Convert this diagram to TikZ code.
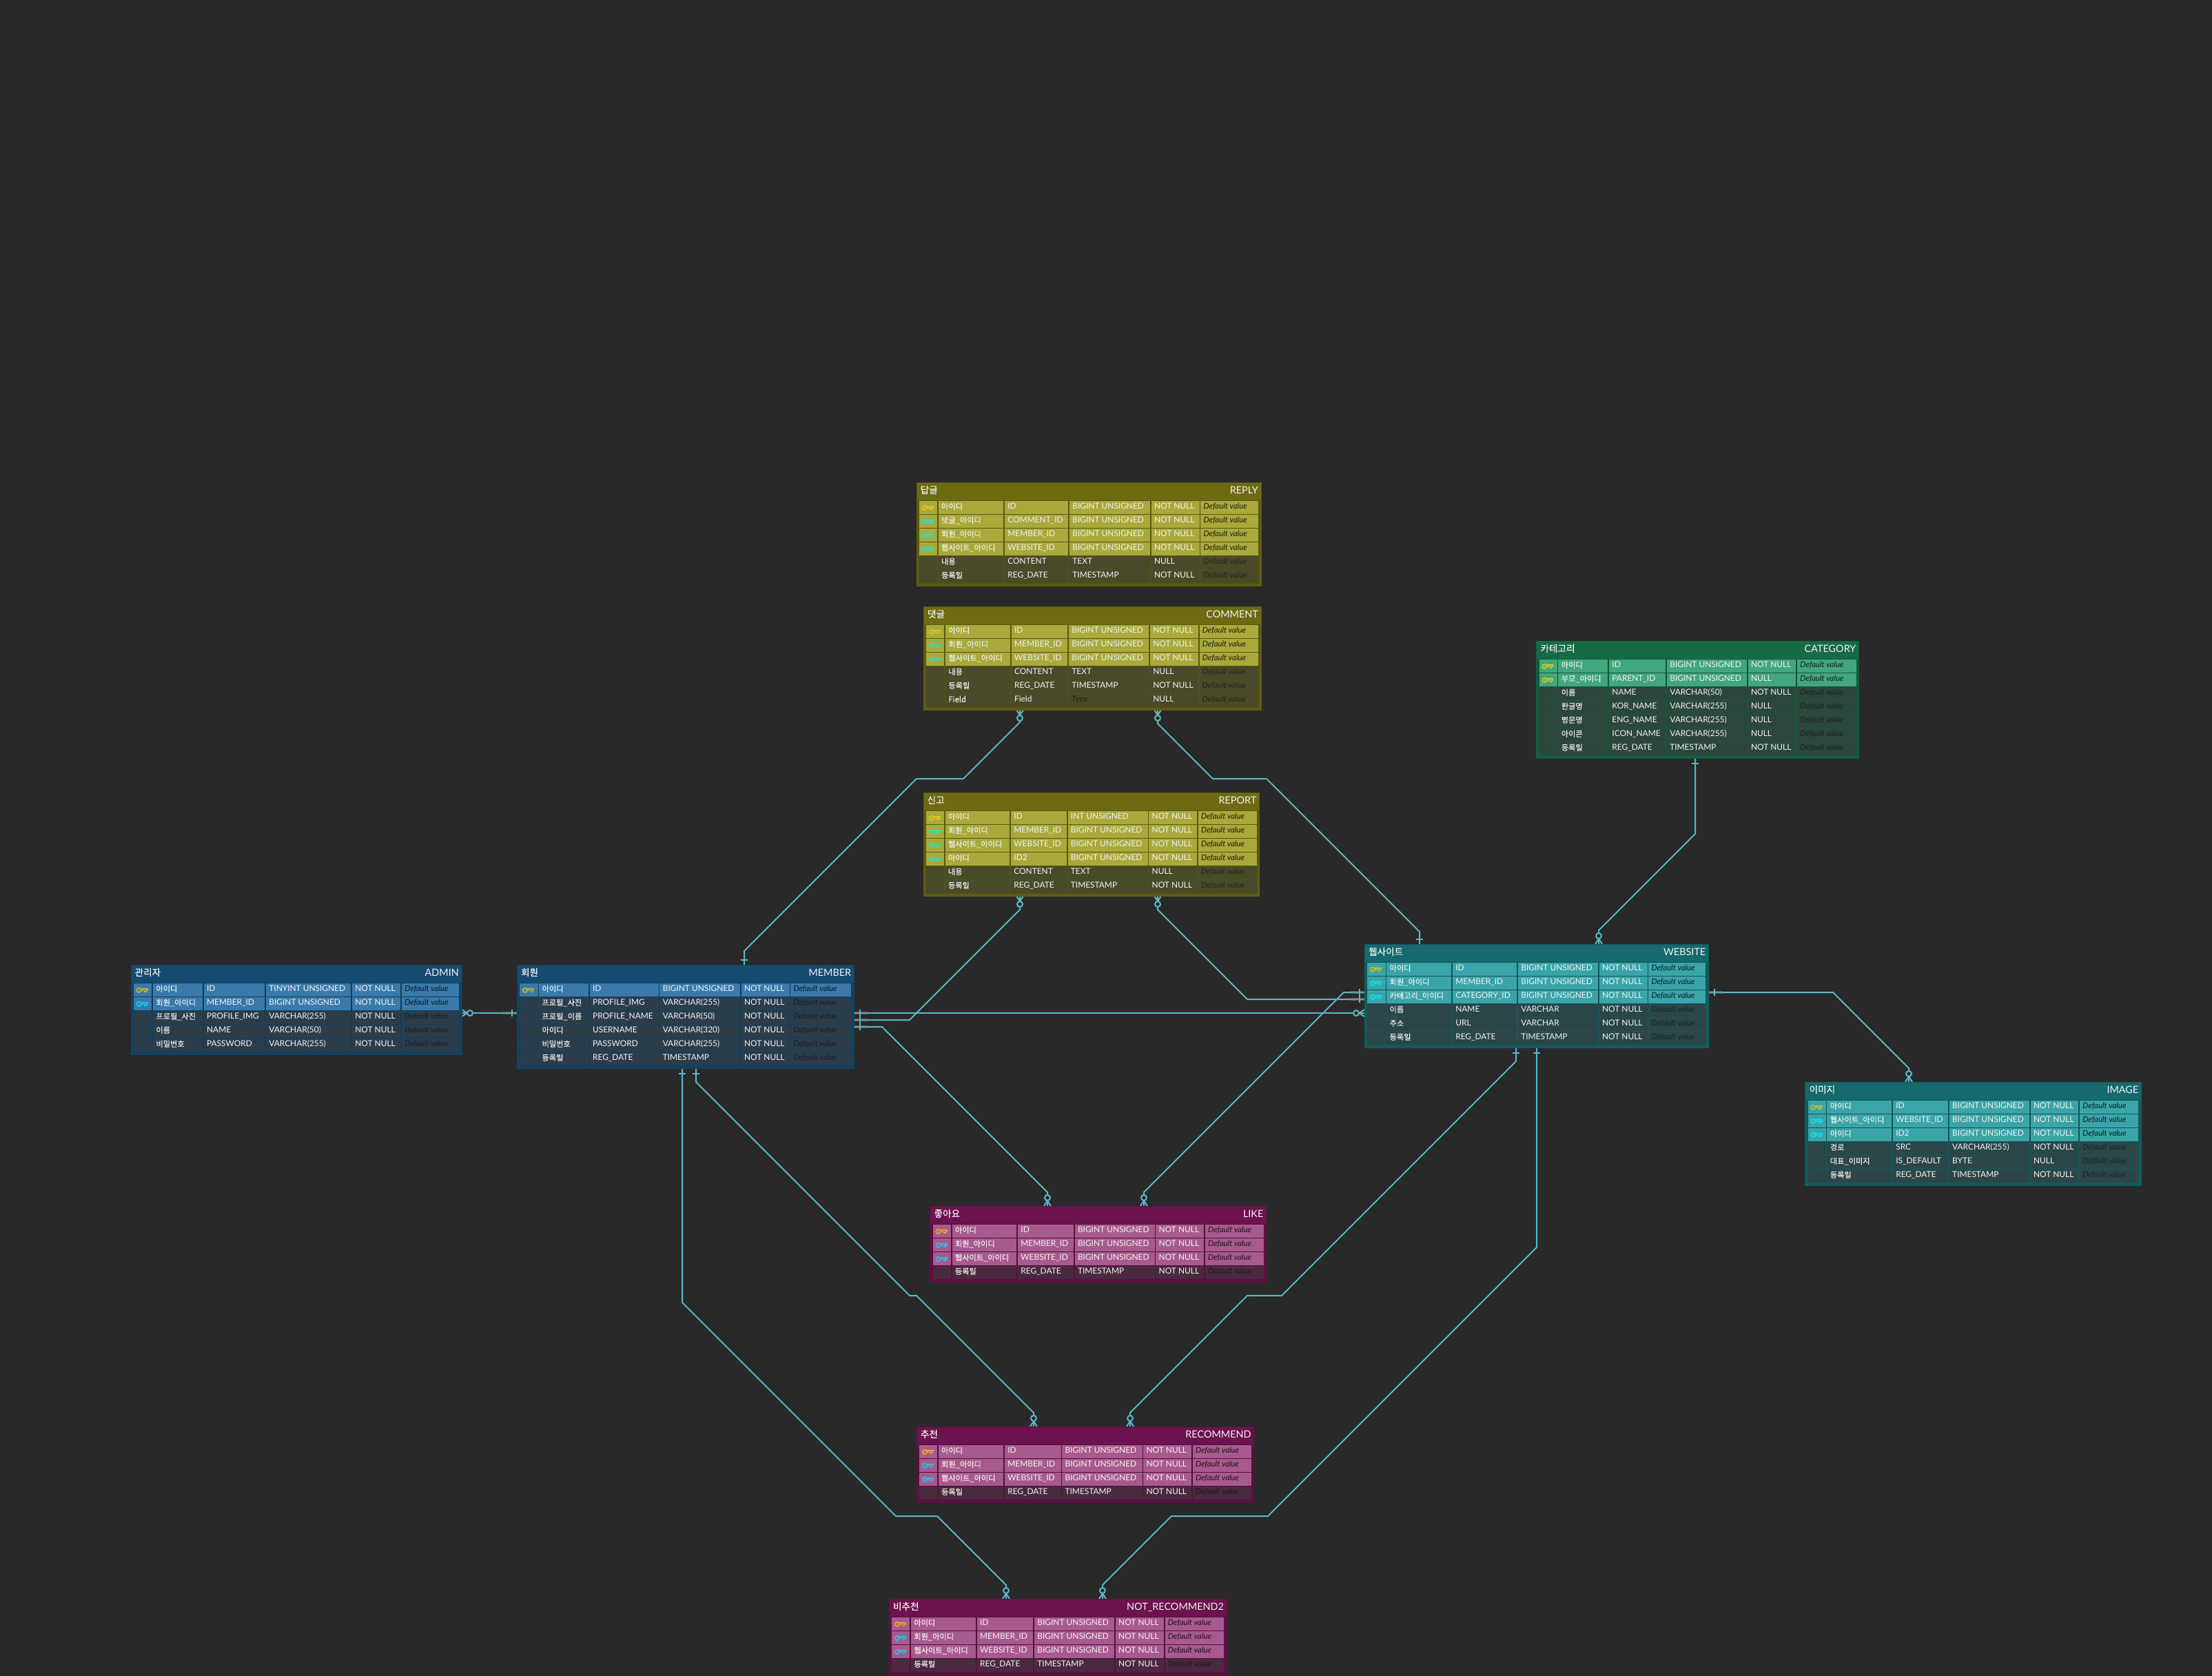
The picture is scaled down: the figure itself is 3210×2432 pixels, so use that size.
\documentclass[tikz,border=0pt]{standalone}
\usepackage{fontspec}
\setmainfont{Lato}
\newfontfamily\krfont[FakeBold=0.2]{Noto Sans CJK KR}
\usetikzlibrary{positioning}

\definecolor{canvas}{HTML}{292929}
\definecolor{relcolor}{HTML}{5AB9C6}
\definecolor{celltxt}{HTML}{F2F2F2}

\definecolor{oliveHdr}{HTML}{6E6A12}
\definecolor{oliveEdge}{HTML}{5E5C10}
\definecolor{oliveBody}{HTML}{5A5810}
\definecolor{oliveGap}{HTML}{50501F}
\definecolor{oliveHi}{HTML}{A9A93C}
\definecolor{oliveLo}{HTML}{4A4A2B}
\definecolor{oliveKp}{HTML}{E0C814}
\definecolor{oliveKf}{HTML}{2EE0C0}

\definecolor{blueHdr}{HTML}{164B72}
\definecolor{blueEdge}{HTML}{134263}
\definecolor{blueBody}{HTML}{113C5C}
\definecolor{blueGap}{HTML}{123E5C}
\definecolor{blueHi}{HTML}{3A7AAB}
\definecolor{blueLo}{HTML}{2C3D4A}
\definecolor{blueKp}{HTML}{C8B820}
\definecolor{blueKf}{HTML}{10D0F0}

\definecolor{tealHdr}{HTML}{16696C}
\definecolor{tealEdge}{HTML}{125C60}
\definecolor{tealBody}{HTML}{125559}
\definecolor{tealGap}{HTML}{17565A}
\definecolor{tealHi}{HTML}{3AA5A8}
\definecolor{tealLo}{HTML}{2C4648}
\definecolor{tealKp}{HTML}{C8C020}
\definecolor{tealKf}{HTML}{10E0E8}

\definecolor{greenHdr}{HTML}{166B46}
\definecolor{greenEdge}{HTML}{125D3C}
\definecolor{greenBody}{HTML}{125636}
\definecolor{greenGap}{HTML}{175739}
\definecolor{greenHi}{HTML}{42A77E}
\definecolor{greenLo}{HTML}{2C463C}
\definecolor{greenKp}{HTML}{D8D018}
\definecolor{greenKf}{HTML}{D8D018}

\definecolor{plumHdr}{HTML}{6C124E}
\definecolor{plumEdge}{HTML}{5E0F44}
\definecolor{plumBody}{HTML}{560E3E}
\definecolor{plumGap}{HTML}{56113F}
\definecolor{plumHi}{HTML}{A85A8E}
\definecolor{plumLo}{HTML}{4A2A3E}
\definecolor{plumKp}{HTML}{F0A820}
\definecolor{plumKf}{HTML}{30C0E0}

\tikzset{
  tableframe/.style={anchor=north west,inner sep=0,outer sep=0,fill=ttHdr,draw=ttEdge,line width=1},
  celltext/.style={anchor=base west,inner sep=0,text=celltxt,font=\fontsize{11.9}{15}\selectfont},
  dfttext/.style={anchor=base west,inner sep=0,font=\fontsize{11.4}{15}\selectfont\itshape},
  titletext/.style={inner sep=0,text=celltxt,font=\fontsize{14.4}{17}\selectfont},
  rowfill p/.style={fill=ttHi},
  rowfill f/.style={fill=ttHi},
  rowfill n/.style={fill=ttLo},
  rowback p/.style={fill=ttBody},
  rowback f/.style={fill=ttBody},
  rowback n/.style={fill=ttGap},
  dftcol p/.style={text=black!82!ttHi},
  dftcol f/.style={text=black!82!ttHi},
  dftcol n/.style={text=black!50!ttLo},
  keycol p/.style={color=ttKp},
  keycol f/.style={color=ttKf},
  keycol n/.style={opacity=0},
  relline/.style={draw=relcolor,line width=2},
  pics/keyicon/.style={code={
    \draw[line width=1.5] (0,0) circle (3.2);
    \fill (0,0) circle (0.9);
    \draw[line width=1.3,line join=round] (3.2,-1.8) -- (12.5,-1.8) -- (12.5,0.6) -- (10.5,0.6) -- (10.5,2.8) -- (8.5,2.8) -- (8.5,0.6) -- (3.2,0.6);
  }},
  pics/manyend/.style={code={
    \draw[relcolor,line width=2] (0,-5) -- (8,0) -- (0,5);
    \draw[relcolor,line width=2,fill=canvas] (12,0) circle (4);
  }},
  pics/oneend/.style={code={
    \draw[relcolor,line width=2] (7.5,-5) -- (7.5,5);
  }},
  pics/oneshade/.style={code={
    \draw[gray,opacity=.55,line width=3.4] (0,0) -- (20,0);
    \draw[relcolor,line width=2] (7.5,-5) -- (7.5,5);
  }},
}

\newcommand{\ercols}[5]{\def\cA{#1}\def\cB{#2}\def\cC{#3}\def\cD{#4}\def\cE{#5}}

% one cell of a table row
\newcommand{\ercell}[5]{%
  \fill[rowfill \k] (#2,\ry) rectangle (#3,\ry+18.6);
  \node[#5] (#1) at (#2+4.2,\ry+11.6) {#4};
}

% id, x, y, width, colours, korean title, table name, rows
\newcommand{\ertable}[8]{%
  \begin{scope}
  \colorlet{ttHdr}{#5Hdr}\colorlet{ttEdge}{#5Edge}\colorlet{ttBody}{#5Body}\colorlet{ttGap}{#5Gap}
  \colorlet{ttHi}{#5Hi}\colorlet{ttLo}{#5Lo}\colorlet{ttKp}{#5Kp}\colorlet{ttKf}{#5Kf}
  \foreach \q [count=\n] in {#8} {\xdef\nrows{\n}}
  \pgfmathsetmacro\tblh{30+20*\nrows}
  \node[tableframe,minimum width=#4pt,minimum height=\tblh pt] (#1) at (#2,#3) {};
  \fill[ttEdge] (#2+0.5,#3+26) rectangle (#2+#4-0.5,#3+\tblh-0.5);
  \fill[ttBody] (#2+3,#3+26) rectangle (#2+#4-3,#3+\tblh-3);
  \node[titletext,anchor=base west] (#1-kr) at (#2+5.5,#3+16) {\krfont\fontsize{13.6}{15}\selectfont #6};
  \node[titletext,anchor=base east] (#1-en) at (#2+#4-4,#3+16) {#7};
  \foreach \k/\lbl/\fld/\typ/\nul [count=\r] in {#8} {
    \pgfmathsetmacro\ry{#3+7.3+20*\r}
    \fill[rowback \k] (#2+3,\ry-0.7) rectangle (#2+#4-3,\ry+19.3);
    \fill[rowfill \k] (#2+4,\ry) rectangle (#2+\cA-1.6,\ry+18.6);
    \pic[keycol \k] at (#2+11.5,\ry+9.6) {keyicon};
    \ercell{#1-\r-lbl}{#2+\cA}{#2+\cB-1.6}{\krfont\fontsize{11.2}{15}\selectfont\lbl}{celltext}
    \ercell{#1-\r-fld}{#2+\cB}{#2+\cC-1.6}{\fld}{celltext}
    \ercell{#1-\r-typ}{#2+\cC}{#2+\cD-1.6}{\typ}{celltext}
    \ercell{#1-\r-nul}{#2+\cD}{#2+\cE-1.6}{\nul}{celltext}
    \ercell{#1-\r-dft}{#2+\cE}{#2+#4-4}{Default value}{dfttext,dftcol \k}
  }
  \end{scope}
}
\newcommand{\typeslot}{\itshape\color{black!50!ttLo}Type}

\begin{document}
\begin{tikzpicture}[x=1pt,y=-1pt]
\useasboundingbox[fill=canvas] (0,0) rectangle (3210,2432);

% connector ends
\coordinate (admin-r) at (670,1470);
\coordinate (member-l) at (750,1470);
\coordinate (member-t) at (1080,1400);
\coordinate (member-r1) at (1240,1470);
\coordinate (member-r2) at (1240,1480);
\coordinate (member-r3) at (1240,1490);
\coordinate (member-b1) at (990,1550);
\coordinate (member-b2) at (1010,1550);
\coordinate (comment-b1) at (1480,1030);
\coordinate (comment-b2) at (1680,1030);
\coordinate (report-b1) at (1480,1300);
\coordinate (report-b2) at (1680,1300);
\coordinate (website-t1) at (2060,1370);
\coordinate (website-t2) at (2320,1370);
\coordinate (website-l1) at (1980,1440);
\coordinate (website-l2) at (1980,1450);
\coordinate (website-l3) at (1980,1470);
\coordinate (website-r) at (2480,1440);
\coordinate (website-b1) at (2200,1520);
\coordinate (website-b2) at (2230,1520);
\coordinate (category-b) at (2460,1100);
\coordinate (image-t) at (2770,1570);
\coordinate (like-t1) at (1520,1750);
\coordinate (like-t2) at (1660,1750);
\coordinate (recommend-t1) at (1500,2070);
\coordinate (recommend-t2) at (1640,2070);
\coordinate (notrec-t1) at (1460,2320);
\coordinate (notrec-t2) at (1600,2320);

% relations
\draw[relline] (admin-r) -- (member-l);
\draw[relline] (member-t) -- (1080,1380) -- (1330,1130) -- (1398,1130) -- (1480,1048) -- (comment-b1);
\draw[relline] (comment-b2) -- (1680,1050) -- (1760,1130) -- (1838,1130) -- (2060,1352) -- (website-t1);
\draw[relline] (member-r2) -- (1320,1480) -- (1480,1320) -- (report-b1);
\draw[relline] (report-b2) -- (1680,1320) -- (1810,1450) -- (website-l2);
\draw[relline] (member-r1) -- (website-l3);
\draw[relline] (member-r3) -- (1280,1490) -- (1520,1730) -- (like-t1);
\draw[relline] (website-l1) -- (1950,1440) -- (1660,1730) -- (like-t2);
\draw[relline] (category-b) -- (2460,1210) -- (2320,1350) -- (website-t2);
\draw[relline] (website-r) -- (2660,1440) -- (2770,1550) -- (image-t);
\draw[relline] (member-b1) -- (990,1890) -- (1300,2200) -- (1360,2200) -- (1460,2300) -- (notrec-t1);
\draw[relline] (member-b2) -- (1010,1570) -- (1320,1880) -- (1330,1880) -- (1500,2050) -- (recommend-t1);
\draw[relline] (website-b1) -- (2200,1540) -- (1860,1880) -- (1810,1880) -- (1640,2050) -- (recommend-t2);
\draw[relline] (website-b2) -- (2230,1810) -- (1840,2200) -- (1700,2200) -- (1600,2300) -- (notrec-t2);

\pic at (admin-r) {manyend};
\pic[rotate=180] at (member-l) {oneshade};
\pic[rotate=90] at (member-t) {oneend};
\pic at (member-r1) {oneshade};
\pic at (member-r2) {oneshade};
\pic at (member-r3) {oneshade};
\pic[rotate=-90] at (member-b1) {oneend};
\pic[rotate=-90] at (member-b2) {oneend};
\pic[rotate=-90] at (comment-b1) {manyend};
\pic[rotate=-90] at (comment-b2) {manyend};
\pic[rotate=-90] at (report-b1) {manyend};
\pic[rotate=-90] at (report-b2) {manyend};
\pic[rotate=90] at (website-t1) {oneend};
\pic[rotate=90] at (website-t2) {manyend};
\pic[rotate=180] at (website-l1) {oneshade};
\pic[rotate=180] at (website-l2) {oneshade};
\pic[rotate=180] at (website-l3) {manyend};
\pic at (website-r) {oneshade};
\pic[rotate=-90] at (website-b1) {oneend};
\pic[rotate=-90] at (website-b2) {oneend};
\pic[rotate=-90] at (category-b) {oneend};
\pic[rotate=90] at (image-t) {manyend};
\pic[rotate=90] at (like-t1) {manyend};
\pic[rotate=90] at (like-t2) {manyend};
\pic[rotate=90] at (recommend-t1) {manyend};
\pic[rotate=90] at (recommend-t2) {manyend};
\pic[rotate=90] at (notrec-t1) {manyend};
\pic[rotate=90] at (notrec-t2) {manyend};

% tables
\ercols{31.7}{128}{222}{340.6}{412.2}
\ertable{reply}{1330}{700}{500}{olive}{답글}{REPLY}{
  p/아이디/ID/BIGINT UNSIGNED/NOT NULL,
  f/댓글\_아이디/COMMENT\_ID/BIGINT UNSIGNED/NOT NULL,
  f/회원\_아이디/MEMBER\_ID/BIGINT UNSIGNED/NOT NULL,
  f/웹사이트\_아이디/WEBSITE\_ID/BIGINT UNSIGNED/NOT NULL,
  n/내용/CONTENT/TEXT/NULL,
  n/등록일/REG\_DATE/TIMESTAMP/NOT NULL}

\ercols{31.7}{127.4}{210.7}{328.6}{400.2}
\ertable{comment}{1340.3}{880}{489.7}{olive}{댓글}{COMMENT}{
  p/아이디/ID/BIGINT UNSIGNED/NOT NULL,
  f/회원\_아이디/MEMBER\_ID/BIGINT UNSIGNED/NOT NULL,
  f/웹사이트\_아이디/WEBSITE\_ID/BIGINT UNSIGNED/NOT NULL,
  n/내용/CONTENT/TEXT/NULL,
  n/등록일/REG\_DATE/TIMESTAMP/NOT NULL,
  n/Field/Field/\typeslot/NULL}

\ercols{31.5}{127}{209.5}{327.3}{398.6}
\ertable{report}{1340}{1150}{487.5}{olive}{신고}{REPORT}{
  p/아이디/ID/INT UNSIGNED/NOT NULL,
  f/회원\_아이디/MEMBER\_ID/BIGINT UNSIGNED/NOT NULL,
  f/웹사이트\_아이디/WEBSITE\_ID/BIGINT UNSIGNED/NOT NULL,
  f/아이디/ID2/BIGINT UNSIGNED/NOT NULL,
  n/내용/CONTENT/TEXT/NULL,
  n/등록일/REG\_DATE/TIMESTAMP/NOT NULL}

\ercols{32}{105.7}{196}{321}{392.9}
\ertable{admin}{190}{1400}{480}{blue}{관리자}{ADMIN}{
  p/아이디/ID/TINYINT UNSIGNED/NOT NULL,
  f/회원\_아이디/MEMBER\_ID/BIGINT UNSIGNED/NOT NULL,
  n/프로필\_사진/PROFILE\_IMG/VARCHAR(255)/NOT NULL,
  n/이름/NAME/VARCHAR(50)/NOT NULL,
  n/비밀번호/PASSWORD/VARCHAR(255)/NOT NULL}

\ercols{31.8}{105.3}{207}{325.3}{396.7}
\ertable{member}{750.4}{1400}{489}{blue}{회원}{MEMBER}{
  p/아이디/ID/BIGINT UNSIGNED/NOT NULL,
  n/프로필\_사진/PROFILE\_IMG/VARCHAR(255)/NOT NULL,
  n/프로필\_이름/PROFILE\_NAME/VARCHAR(50)/NOT NULL,
  n/아이디/USERNAME/VARCHAR(320)/NOT NULL,
  n/비밀번호/PASSWORD/VARCHAR(255)/NOT NULL,
  n/등록일/REG\_DATE/TIMESTAMP/NOT NULL}

\ercols{31.8}{127.5}{222.5}{340.3}{411.7}
\ertable{website}{1980.4}{1370}{499}{teal}{웹사이트}{WEBSITE}{
  p/아이디/ID/BIGINT UNSIGNED/NOT NULL,
  f/회원\_아이디/MEMBER\_ID/BIGINT UNSIGNED/NOT NULL,
  f/카테고리\_아이디/CATEGORY\_ID/BIGINT UNSIGNED/NOT NULL,
  n/이름/NAME/VARCHAR/NOT NULL,
  n/주소/URL/VARCHAR/NOT NULL,
  n/등록일/REG\_DATE/TIMESTAMP/NOT NULL}

\ercols{31.6}{105.2}{189.1}{306.8}{378.2}
\ertable{category}{2229.8}{930}{467.7}{green}{카테고리}{CATEGORY}{
  p/아이디/ID/BIGINT UNSIGNED/NOT NULL,
  f/부모\_아이디/PARENT\_ID/BIGINT UNSIGNED/NULL,
  n/이름/NAME/VARCHAR(50)/NOT NULL,
  n/한글명/KOR\_NAME/VARCHAR(255)/NULL,
  n/영문명/ENG\_NAME/VARCHAR(255)/NULL,
  n/아이콘/ICON\_NAME/VARCHAR(255)/NULL,
  n/등록일/REG\_DATE/TIMESTAMP/NOT NULL}

\ercols{31.5}{127}{208.9}{326.7}{398}
\ertable{image}{2619.9}{1570}{487.5}{teal}{이미지}{IMAGE}{
  p/아이디/ID/BIGINT UNSIGNED/NOT NULL,
  f/웹사이트\_아이디/WEBSITE\_ID/BIGINT UNSIGNED/NOT NULL,
  f/아이디/ID2/BIGINT UNSIGNED/NOT NULL,
  n/경로/SRC/VARCHAR(255)/NOT NULL,
  n/대표\_이미지/IS\_DEFAULT/BYTE/NULL,
  n/등록일/REG\_DATE/TIMESTAMP/NOT NULL}

\ercols{31.6}{127.1}{209.7}{327.4}{398.7}
\ertable{like}{1349.9}{1750}{487.6}{plum}{좋아요}{LIKE}{
  p/아이디/ID/BIGINT UNSIGNED/NOT NULL,
  f/회원\_아이디/MEMBER\_ID/BIGINT UNSIGNED/NOT NULL,
  f/웹사이트\_아이디/WEBSITE\_ID/BIGINT UNSIGNED/NOT NULL,
  n/등록일/REG\_DATE/TIMESTAMP/NOT NULL}

\ercols{31.4}{127.6}{210.9}{328.9}{400.3}
\ertable{recommend}{1330.3}{2070}{489.4}{plum}{추천}{RECOMMEND}{
  p/아이디/ID/BIGINT UNSIGNED/NOT NULL,
  f/회원\_아이디/MEMBER\_ID/BIGINT UNSIGNED/NOT NULL,
  f/웹사이트\_아이디/WEBSITE\_ID/BIGINT UNSIGNED/NOT NULL,
  n/등록일/REG\_DATE/TIMESTAMP/NOT NULL}

\ercols{31.7}{127.4}{210.7}{328.5}{400.2}
\ertable{notrec}{1290.3}{2320}{489.7}{plum}{비추천}{NOT\_RECOMMEND2}{
  p/아이디/ID/BIGINT UNSIGNED/NOT NULL,
  f/회원\_아이디/MEMBER\_ID/BIGINT UNSIGNED/NOT NULL,
  f/웹사이트\_아이디/WEBSITE\_ID/BIGINT UNSIGNED/NOT NULL,
  n/등록일/REG\_DATE/TIMESTAMP/NOT NULL}
\end{tikzpicture}
\end{document}
